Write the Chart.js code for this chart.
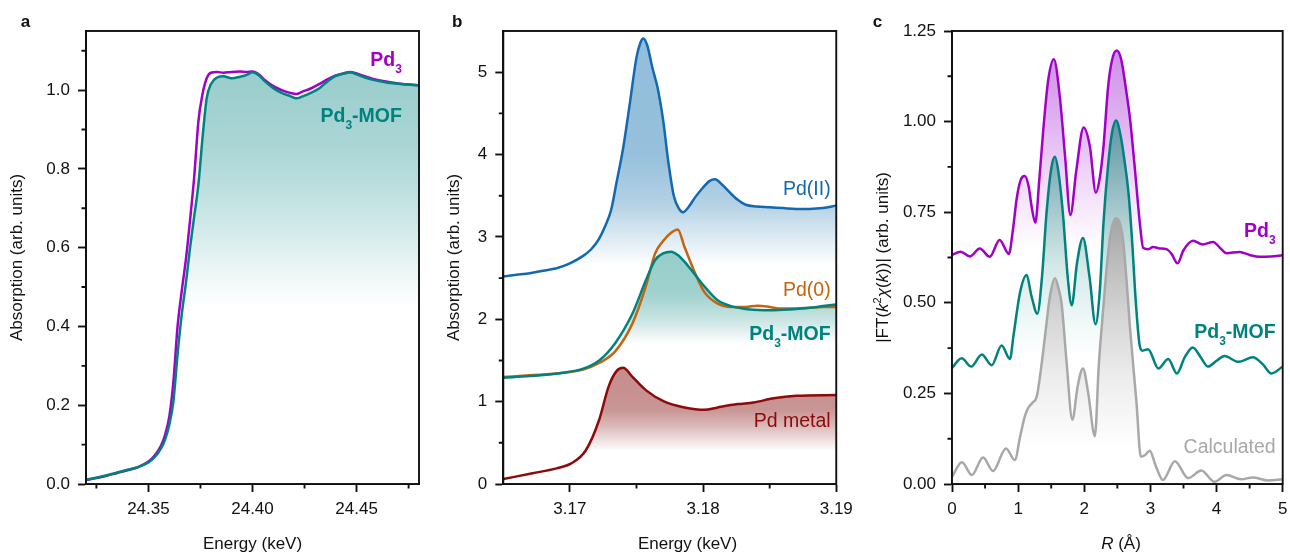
<!DOCTYPE html>
<html><head><meta charset="utf-8">
<script src="https://cdn.jsdelivr.net/npm/chart.js@4/dist/chart.umd.min.js"></script>
<style>
html,body{margin:0;padding:0;background:#fff;overflow:hidden;}
#wrap{position:relative;width:1290px;height:555px;overflow:hidden;background:#fff;}
canvas{position:absolute;top:0;}
</style></head><body>
<div id="wrap">
<canvas id="ca" width="440" height="575" style="left:0px;width:440px;height:575px"></canvas>
<canvas id="cb" width="420" height="575" style="left:440px;width:420px;height:575px"></canvas>
<canvas id="cc" width="450" height="575" style="left:860px;width:450px;height:575px"></canvas>
</div>
<script>
// ---------------- DATA ----------------
// Panel a: Pd K-edge XANES
const energyA = [24.320,24.325,24.330,24.335,24.340,24.345,24.350,24.353,24.356,24.358,24.360,24.362,24.364,24.366,24.368,24.370,24.372,24.374,24.376,24.378,24.380,24.383,24.386,24.390,24.394,24.397,24.400,24.403,24.406,24.410,24.414,24.418,24.421,24.424,24.428,24.432,24.436,24.440,24.444,24.447,24.450,24.454,24.458,24.462,24.466,24.470,24.475,24.480];
const absMofA = [0.011,0.016,0.022,0.029,0.036,0.043,0.055,0.068,0.090,0.113,0.150,0.21,0.33,0.43,0.51,0.60,0.68,0.76,0.88,0.98,1.015,1.032,1.035,1.030,1.034,1.038,1.045,1.038,1.022,1.005,0.993,0.985,0.979,0.984,0.993,1.004,1.022,1.036,1.042,1.045,1.040,1.032,1.026,1.022,1.018,1.016,1.014,1.012];
const absPd3A = [0.010,0.015,0.021,0.028,0.035,0.043,0.057,0.072,0.097,0.125,0.170,0.26,0.40,0.49,0.57,0.67,0.78,0.92,0.99,1.03,1.044,1.046,1.044,1.046,1.047,1.046,1.047,1.040,1.025,1.010,1.000,0.993,0.990,0.996,1.004,1.015,1.027,1.037,1.043,1.046,1.042,1.035,1.028,1.024,1.020,1.017,1.014,1.012];
const xTickLabelsA = ['24.35','24.40','24.45'];
const yTickLabelsA = ['0.0','0.2','0.4','0.6','0.8','1.0'];
const xMinorA = [24.325,24.375,24.425,24.475];
const yMinorA = [0.1,0.3,0.5,0.7,0.9,1.1];

// Panel b: Pd L3-edge XANES  [energy keV, absorption]
const pdIIB = [[3.1650,2.52],[3.1660,2.54],[3.1670,2.56],[3.1680,2.59],[3.1690,2.62],[3.1700,2.68],[3.1710,2.77],[3.1716,2.85],[3.1722,2.98],[3.1727,3.15],[3.1731,3.33],[3.1735,3.66],[3.1740,4.08],[3.1745,4.62],[3.1750,5.18],[3.1753,5.36],[3.1755,5.41],[3.1758,5.33],[3.1762,5.05],[3.1766,4.80],[3.1770,4.42],[3.1774,3.90],[3.1778,3.50],[3.1782,3.34],[3.1785,3.30],[3.1789,3.36],[3.1794,3.48],[3.1800,3.60],[3.1805,3.68],[3.1809,3.70],[3.1814,3.64],[3.1820,3.54],[3.1826,3.45],[3.1832,3.39],[3.1840,3.37],[3.1850,3.36],[3.1860,3.35],[3.1870,3.34],[3.1880,3.34],[3.1890,3.35],[3.1900,3.38]];
const pd0B = [[3.1650,1.30],[3.1670,1.32],[3.1695,1.35],[3.1710,1.39],[3.1722,1.47],[3.1734,1.61],[3.1747,1.95],[3.1757,2.40],[3.1764,2.80],[3.1770,2.95],[3.1776,3.05],[3.1781,3.09],[3.1786,2.88],[3.1794,2.56],[3.1801,2.33],[3.1811,2.19],[3.1821,2.15],[3.1832,2.15],[3.1841,2.165],[3.1850,2.15],[3.1858,2.13],[3.1870,2.13],[3.1880,2.14],[3.1890,2.15],[3.1900,2.15]];
const mofB = [[3.1650,1.29],[3.1670,1.31],[3.1695,1.35],[3.1710,1.40],[3.1722,1.50],[3.1734,1.71],[3.1747,2.07],[3.1757,2.47],[3.1764,2.72],[3.1770,2.80],[3.1776,2.82],[3.1781,2.78],[3.1786,2.70],[3.1794,2.54],[3.1801,2.40],[3.1811,2.23],[3.1821,2.16],[3.1835,2.12],[3.1850,2.11],[3.1865,2.12],[3.1880,2.14],[3.1890,2.16],[3.1900,2.18]];
const metalB = [[3.1650,0.06],[3.1672,0.13],[3.1690,0.19],[3.1701,0.25],[3.1712,0.41],[3.1722,0.78],[3.1729,1.18],[3.1735,1.37],[3.1740,1.41],[3.1747,1.30],[3.1757,1.14],[3.1771,1.00],[3.1786,0.93],[3.1801,0.90],[3.1811,0.93],[3.1826,0.97],[3.1838,0.99],[3.1853,1.04],[3.1870,1.07],[3.1900,1.08]];
const xTickLabelsB = ['3.17','3.18','3.19'];
const yTickLabelsB = ['0','1','2','3','4','5'];
const xMinorB = [3.175,3.185];
const yMinorB = [0.5,1.5,2.5,3.5,4.5];

// Panel c: EXAFS |FT|  [R (Å), magnitude]
const pd3C = [[0,0.632],[0.13,0.641],[0.27,0.628],[0.42,0.650],[0.57,0.627],[0.72,0.673],[0.86,0.635],[0.92,0.70],[0.98,0.79],[1.04,0.84],[1.10,0.850],[1.16,0.82],[1.20,0.77],[1.26,0.721],[1.32,0.84],[1.38,0.977],[1.455,1.115],[1.54,1.172],[1.63,1.069],[1.71,0.903],[1.79,0.742],[1.88,0.866],[1.99,0.984],[2.085,0.931],[2.175,0.804],[2.23,0.84],[2.29,0.93],[2.36,1.096],[2.42,1.17],[2.49,1.196],[2.56,1.17],[2.63,1.09],[2.69,1.01],[2.76,0.88],[2.84,0.72],[2.89,0.652],[2.97,0.648],[3.04,0.654],[3.14,0.650],[3.24,0.648],[3.32,0.635],[3.41,0.609],[3.50,0.645],[3.645,0.671],[3.79,0.661],[3.95,0.668],[4.05,0.652],[4.15,0.637],[4.35,0.640],[4.50,0.632],[4.65,0.627],[4.82,0.628],[5.0,0.631]];
const mofC = [[0,0.320],[0.146,0.347],[0.29,0.324],[0.45,0.357],[0.60,0.328],[0.75,0.382],[0.876,0.345],[0.93,0.41],[1.03,0.53],[1.128,0.577],[1.20,0.52],[1.29,0.470],[1.36,0.57],[1.43,0.75],[1.50,0.87],[1.555,0.903],[1.61,0.86],[1.68,0.74],[1.75,0.57],[1.81,0.493],[1.89,0.61],[1.98,0.679],[2.08,0.57],[2.17,0.441],[2.235,0.534],[2.29,0.72],[2.36,0.88],[2.42,0.97],[2.48,1.003],[2.55,0.96],[2.61,0.89],[2.67,0.80],[2.72,0.68],[2.78,0.50],[2.84,0.38],[2.88,0.368],[2.965,0.372],[3.12,0.319],[3.27,0.345],[3.40,0.305],[3.52,0.35],[3.64,0.377],[3.76,0.35],[3.87,0.324],[4.0,0.34],[4.12,0.353],[4.33,0.337],[4.55,0.350],[4.70,0.33],[4.83,0.305],[5.0,0.324]];
const calcC = [[0,0.020],[0.15,0.060],[0.30,0.025],[0.47,0.073],[0.62,0.036],[0.816,0.098],[0.95,0.066],[1.03,0.131],[1.10,0.186],[1.15,0.209],[1.22,0.225],[1.28,0.24],[1.34,0.31],[1.405,0.406],[1.48,0.517],[1.556,0.568],[1.61,0.54],[1.657,0.498],[1.73,0.342],[1.82,0.177],[1.90,0.27],[1.98,0.319],[2.06,0.25],[2.16,0.132],[2.22,0.33],[2.28,0.47],[2.34,0.60],[2.39,0.682],[2.477,0.733],[2.58,0.682],[2.64,0.56],[2.69,0.434],[2.79,0.223],[2.855,0.075],[2.92,0.08],[2.99,0.092],[3.08,0.05],[3.19,0.011],[3.37,0.063],[3.57,0.016],[3.77,0.037],[3.97,0.006],[4.15,0.025],[4.37,0.013],[4.55,0.018],[4.78,0.010],[5.0,0.013]];
const xTickLabelsC = ['0','1','2','3','4','5'];
const yTickLabelsC = ['0.00','0.25','0.50','0.75','1.00','1.25'];
const xMinorC = [0.5,1.5,2.5,3.5,4.5];
const yMinorC = [0.125,0.375,0.625,0.875,1.125];

// ---------------- STYLE ----------------
const FONT = '"Liberation Sans", Arial, Helvetica, sans-serif';
Chart.defaults.font.family = FONT;
const C_PURPLE = '#a000c8', C_TEAL = '#00827e', C_BLUE = '#1369b0', C_ORANGE = '#c5640f', C_RED = '#8c0a0a', C_GRAY = '#a8a8a8', INK = '#111';
const B19 = 'bold 19.5px ' + FONT, B12 = 'bold 12px ' + FONT, R19 = '19.5px ' + FONT;
const R17 = '17px ' + FONT, I17 = 'italic 17px ' + FONT, R11 = '11px ' + FONT, B17 = 'bold 17px ' + FONT;
const LW = 2.5, AXW = 1.9;

function pts(xs, ys) { return xs.map((x, i) => ({x, y: ys[i]})); }
function pairs(arr) { return arr.map(p => ({x: p[0], y: p[1]})); }

function grad(stops) {
  return (ctx) => {
    const chart = ctx.chart;
    if (!chart.chartArea) return 'rgba(0,0,0,0)';
    const y = chart.scales.y;
    const p0 = y.getPixelForValue(stops[0][0]);
    const p1 = y.getPixelForValue(stops[stops.length - 1][0]);
    const g = chart.ctx.createLinearGradient(0, p0, 0, p1);
    stops.forEach(([v, c]) => g.addColorStop(Math.min(1, Math.max(0, (y.getPixelForValue(v) - p0) / (p1 - p0))), c));
    return g;
  };
}

function axis(o) {
  const vals = o.labels.map(Number);
  return {
    type: 'linear', min: o.min, max: o.max,
    afterBuildTicks: s => { s.ticks = vals.map(v => ({value: v})); },
    afterFit: s => { if (o.horizontal) s.height = o.size; else s.width = o.size; },
    ticks: {autoSkip: false, maxRotation: 0, minRotation: 0, padding: o.horizontal ? 7.2 : 8,
            color: INK, font: {family: FONT, size: 17}, callback: (v, i) => o.labels[i]},
    grid: {display: true, drawOnChartArea: false, drawTicks: true, tickLength: 8, tickWidth: AXW, tickColor: INK},
    border: {display: true, color: INK, width: AXW},
    title: o.title || {display: false}
  };
}

function drawRich(ctx, t, chart) {
  let X = t.x, Y = t.y;
  if (t.data) { X = chart.scales.x.getPixelForValue(t.x); Y = chart.scales.y.getPixelForValue(t.y); }
  ctx.save();
  ctx.fillStyle = t.color || INK;
  ctx.textBaseline = t.baseline || 'alphabetic';
  ctx.textAlign = 'left';
  ctx.translate(X, Y);
  if (t.rotate) ctx.rotate(t.rotate);
  let w = 0;
  t.segs.forEach(s => { ctx.font = s[1]; w += ctx.measureText(s[0]).width; });
  let cx = t.align === 'right' ? -w : (t.align === 'center' ? -w / 2 : 0);
  t.segs.forEach(s => { ctx.font = s[1]; ctx.fillText(s[0], cx, s[2] || 0); cx += ctx.measureText(s[0]).width; });
  ctx.restore();
}

function decor(cfg) {
  return {
    id: 'decor',
    afterDatasetsDraw(chart) {
      const {ctx, chartArea: a, scales: {x, y}} = chart;
      ctx.save();
      ctx.strokeStyle = INK; ctx.lineWidth = AXW;
      ctx.strokeRect(a.left, a.top, a.right - a.left, a.bottom - a.top);
      ctx.beginPath();
      cfg.xMinor.forEach(v => { const p = x.getPixelForValue(v); ctx.moveTo(p, a.bottom); ctx.lineTo(p, a.bottom + 4.5); });
      cfg.yMinor.forEach(v => { const p = y.getPixelForValue(v); ctx.moveTo(a.left - 4.5, p); ctx.lineTo(a.left, p); });
      ctx.stroke();
      ctx.restore();
      cfg.texts.forEach(t => drawRich(ctx, t, chart));
    }
  };
}

function line(data, color, fill, bg) {
  return {data, borderColor: color, borderWidth: LW, pointRadius: 0, cubicInterpolationMode: 'monotone',
          fill: fill ? 'origin' : false, backgroundColor: bg || 'rgba(0,0,0,0)'};
}

function baseOptions(pad, xAx, yAx) {
  return {
    responsive: false, animation: false, devicePixelRatio: 1,
    layout: {padding: pad},
    plugins: {legend: {display: false}, tooltip: {enabled: false},
              filler: {propagate: false, drawTime: 'beforeDatasetsDraw'}},
    scales: {x: xAx, y: yAx}
  };
}

// ---------------- PANEL A ----------------
new Chart(document.getElementById('ca'), {
  type: 'line',
  data: {datasets: [
    line(pts(energyA, absMofA), C_TEAL, true, grad([[1.05,'rgb(152,204,204)'],[0.85,'rgb(172,214,214)'],[0.70,'rgb(198,228,228)'],[0.55,'rgb(234,245,245)'],[0.45,'rgb(255,255,255)']])),
    line(pts(energyA, absPd3A), C_PURPLE, false)
  ]},
  options: baseOptions({left: 0, top: 31, right: 21, bottom: 0},
    axis({min: 24.32, max: 24.48, labels: xTickLabelsA, horizontal: true, size: 91,
          title: {display: true, text: 'Energy (keV)', color: INK, font: {family: FONT, size: 17}, padding: {top: 0, bottom: 20.2}}}),
    axis({min: 0, max: 1.15, labels: yTickLabelsA, size: 86,
          title: {display: true, text: 'Absorption (arb. units)', color: INK, font: {family: FONT, size: 17}, padding: {top: 7.3, bottom: 0}}})),
  plugins: [decor({xMinor: xMinorA, yMinor: yMinorA, texts: [
    {data: true, x: 24.4718, y: 1.0617, align: 'right', color: C_PURPLE, segs: [['Pd', B19], ['3', B12, 7]]},
    {data: true, x: 24.4718, y: 0.919, align: 'right', color: C_TEAL, segs: [['Pd', B19], ['3', B12, 7], ['-MOF', B19]]},
    {x: 20.7, y: 27, segs: [['a', B17]]}
  ]})]
});

// ---------------- PANEL B ----------------
new Chart(document.getElementById('cb'), {
  type: 'line',
  data: {datasets: [
    line(pairs(metalB), C_RED, true, grad([[1.4,'rgb(198,140,140)'],[0.9,'rgb(201,149,149)'],[0.7,'rgb(220,186,186)'],[0.4,'rgb(255,255,255)']])),
    line(pairs(mofB), C_TEAL, true, grad([[2.8,'rgb(150,205,202)'],[2.3,'rgb(160,210,207)'],[2.0,'rgb(200,228,226)'],[1.7,'rgb(255,255,255)']])),
    line(pairs(pd0B), C_ORANGE, false),
    line(pairs(pdIIB), C_BLUE, true, grad([[5.4,'rgb(146,190,219)'],[4.0,'rgb(150,192,220)'],[3.4,'rgb(180,209,229)'],[3.0,'rgb(220,234,243)'],[2.65,'rgb(255,255,255)']]))
  ]},
  options: baseOptions({left: 0, top: 31, right: 20.3, bottom: 0},
    axis({min: 3.165, max: 3.19, labels: xTickLabelsB, horizontal: true, size: 91}),
    axis({min: 0, max: 5.5, labels: yTickLabelsB, size: 63.3,
          title: {display: true, text: 'Absorption (arb. units)', color: INK, font: {family: FONT, size: 17}, padding: {top: 3.8, bottom: 0}}})),
  plugins: [decor({xMinor: xMinorB, yMinor: yMinorB, texts: [
    {data: true, x: 3.18958, y: 3.503, align: 'right', color: C_BLUE, segs: [['Pd(II)', R19]]},
    {data: true, x: 3.18958, y: 2.286, align: 'right', color: C_ORANGE, segs: [['Pd(0)', R19]]},
    {data: true, x: 3.18958, y: 1.748, align: 'right', color: C_TEAL, segs: [['Pd', B19], ['3', B12, 7], ['-MOF', B19]]},
    {data: true, x: 3.18958, y: 0.696, align: 'right', color: C_RED, segs: [['Pd metal', R19]]},
    {x: 247.5, y: 544.6, align: 'center', baseline: 'middle', segs: [['Energy (keV)', R17]]},
    {x: 12, y: 27, segs: [['b', B17]]}
  ]})]
});

// ---------------- PANEL C ----------------
new Chart(document.getElementById('cc'), {
  type: 'line',
  data: {datasets: [
    line(pairs(calcC), C_GRAY, true, grad([[0.73,'rgb(165,165,165)'],[0.6,'rgb(190,190,190)'],[0.45,'rgb(215,215,215)'],[0.3,'rgb(236,236,236)'],[0.1,'rgb(255,255,255)']])),
    line(pairs(mofC), C_TEAL, true, grad([[1.0,'rgb(98,152,166)'],[0.9,'rgb(122,170,181)'],[0.75,'rgb(168,202,207)'],[0.6,'rgb(212,233,233)'],[0.45,'rgb(240,248,248)'],[0.35,'rgb(255,255,255)']])),
    line(pairs(pd3C), C_PURPLE, true, grad([[1.2,'rgb(206,142,231)'],[1.0,'rgb(224,178,241)'],[0.85,'rgb(240,214,248)'],[0.65,'rgb(255,255,255)']]))
  ]},
  options: baseOptions({left: 0, top: 31, right: 27.3, bottom: 0},
    axis({min: 0, max: 5, labels: xTickLabelsC, horizontal: true, size: 91}),
    axis({min: 0, max: 1.25, labels: yTickLabelsC, size: 92})),
  plugins: [decor({xMinor: xMinorC, yMinor: yMinorC, texts: [
    {data: true, x: 4.894, y: 0.6816, align: 'right', color: C_PURPLE, segs: [['Pd', B19], ['3', B12, 7]]},
    {data: true, x: 4.894, y: 0.4029, align: 'right', color: C_TEAL, segs: [['Pd', B19], ['3', B12, 7], ['-MOF', B19]]},
    {data: true, x: 4.894, y: 0.0855, align: 'right', color: C_GRAY, segs: [['Calculated', R19]]},
    {x: 23.5, y: 257.5, rotate: -Math.PI / 2, align: 'center', baseline: 'middle',
     segs: [['|FT(', R17], ['k', I17], ['2', R11, -6], ['\u03C7', I17], ['(', R17], ['k', I17], ['))| (arb. units)', R17]]},
    {x: 261, y: 544.6, align: 'center', baseline: 'middle', segs: [['R', I17], [' (\u00C5)', R17]]},
    {x: 12.7, y: 27, segs: [['c', B17]]}
  ]})]
});
</script>
</body></html>
